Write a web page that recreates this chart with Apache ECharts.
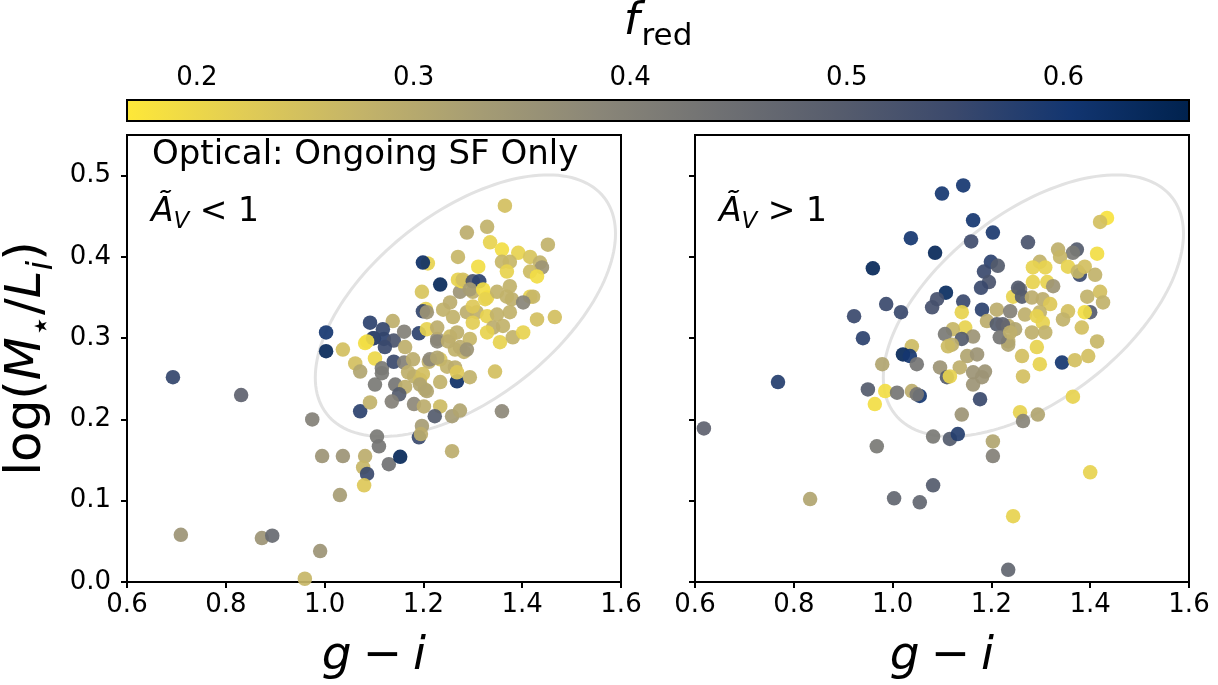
<!DOCTYPE html>
<html>
<head>
<meta charset="utf-8">
<script src="https://cdn.jsdelivr.net/npm/echarts@6/dist/echarts.min.js"></script>
<style>
  html, body { margin: 0; padding: 0; background: #ffffff; }
  #chart { width: 1218px; height: 685px; }
</style>
</head>
<body>
<div id="chart"></div>
<script>
// Each galaxy: [g - i colour, log(M*/L_i), f_red]
const lowAvPoints = [
  [0.693,0.252,0.56],[0.831,0.230,0.48],[0.709,0.058,0.35],[0.873,0.054,0.35],[0.894,0.057,0.46],
  [0.991,0.038,0.35],[0.960,0.004,0.27],[0.975,0.200,0.40],[0.995,0.155,0.35],[1.037,0.155,0.35],
  [1.031,0.107,0.33],[1.082,0.155,0.29],[1.078,0.141,0.27],[1.086,0.133,0.55],[1.080,0.119,0.23],
  [1.106,0.179,0.42],[1.110,0.167,0.43],[1.130,0.145,0.44],[1.153,0.154,0.64],[1.258,0.161,0.29],
  [1.072,0.210,0.57],[1.092,0.221,0.28],[1.003,0.284,0.64],[1.003,0.307,0.60],[1.037,0.286,0.25],
  [1.082,0.294,0.19],[1.100,0.300,0.57],[1.120,0.299,0.57],[1.140,0.297,0.52],[1.161,0.308,0.40],
  [1.191,0.306,0.57],[1.062,0.269,0.25],[1.072,0.259,0.31],[1.102,0.275,0.20],[1.116,0.263,0.42],
  [1.116,0.257,0.42],[1.102,0.243,0.42],[1.140,0.271,0.55],[1.161,0.270,0.40],[1.143,0.243,0.43],
  [1.163,0.240,0.285],[1.151,0.231,0.50],[1.136,0.222,0.40],[1.181,0.219,0.38],[1.201,0.216,0.29],
  [1.234,0.216,0.26],[1.223,0.204,0.50],[1.258,0.204,0.33],[1.274,0.211,0.31],[1.197,0.192,0.33],
  [1.191,0.178,0.55],[1.195,0.182,0.29],[1.268,0.247,0.62],[1.294,0.252,0.28],[1.234,0.246,0.28],
  [1.203,0.237,0.285],[1.181,0.253,0.285],[1.193,0.249,0.26],[1.211,0.271,0.285],[1.234,0.274,0.24],
  [1.248,0.265,0.28],[1.228,0.299,0.35],[1.254,0.302,0.26],[1.264,0.286,0.28],[1.282,0.283,0.28],
  [1.294,0.299,0.27],[1.234,0.366,0.64],[1.197,0.357,0.24],[1.274,0.357,0.35],[1.300,0.357,0.285],
  [1.278,0.370,0.19],[1.329,0.350,0.21],[1.349,0.357,0.28],[1.375,0.364,0.28],[1.379,0.348,0.285],
  [1.205,0.336,0.21],[1.199,0.333,0.56],[1.207,0.332,0.35],[1.240,0.335,0.28],[1.260,0.326,0.28],
  [1.288,0.332,0.29],[1.308,0.332,0.285],[1.329,0.327,0.21],[1.349,0.329,0.28],[1.375,0.332,0.28],
  [1.361,0.315,0.28],[1.341,0.313,0.29],[1.300,0.319,0.22],[1.329,0.307,0.21],[1.355,0.295,0.21],
  [1.381,0.301,0.28],[1.092,0.319,0.57],[1.138,0.321,0.285],[1.118,0.311,0.56],[1.098,0.300,0.56],
  [1.086,0.296,0.19],[1.122,0.289,0.55],[1.207,0.311,0.21],[1.228,0.313,0.29],[1.228,0.296,0.39],
  [1.250,0.296,0.29],[1.268,0.307,0.285],[1.274,0.289,0.29],[1.288,0.286,0.35],[1.163,0.289,0.285],
  [1.179,0.274,0.29],[1.213,0.274,0.38],[1.228,0.276,0.31],[1.264,0.264,0.29],[1.268,0.258,0.23],
  [1.169,0.258,0.285],[1.199,0.256,0.25],[1.193,0.243,0.31],[1.207,0.235,0.31],[1.345,0.259,0.25],
  [1.359,0.210,0.38],[1.365,0.463,0.25],[1.329,0.437,0.28],[1.288,0.430,0.29],[1.270,0.400,0.27],
  [1.335,0.418,0.21],[1.359,0.409,0.19],[1.392,0.405,0.21],[1.416,0.400,0.24],[1.452,0.415,0.28],
  [1.436,0.393,0.28],[1.440,0.387,0.35],[1.416,0.382,0.26],[1.430,0.376,0.19],[1.359,0.394,0.27],
  [1.375,0.394,0.27],[1.369,0.382,0.21],[1.311,0.388,0.19],[1.270,0.372,0.21],[1.280,0.372,0.25],
  [1.300,0.370,0.52],[1.313,0.370,0.57],[1.294,0.360,0.33],[1.321,0.360,0.19],[1.416,0.351,0.21],
  [1.422,0.351,0.27],[1.369,0.351,0.28],[1.402,0.344,0.39],[1.430,0.323,0.25],[1.466,0.326,0.25],
  [1.300,0.339,0.23],[1.325,0.348,0.21],[1.254,0.344,0.29],[1.209,0.392,0.21],[1.199,0.393,0.62],
  [1.402,0.307,0.21]
];

const highAvPoints = [
  [0.618,0.189,0.48],[0.768,0.246,0.58],[0.833,0.102,0.31],[1.143,0.488,0.60],[1.100,0.478,0.60],
  [1.163,0.445,0.60],[1.203,0.430,0.59],[1.159,0.419,0.54],[1.037,0.423,0.60],[1.086,0.405,0.64],
  [0.960,0.386,0.64],[1.199,0.394,0.57],[1.213,0.389,0.50],[1.185,0.382,0.55],[1.195,0.369,0.52],
  [1.179,0.362,0.55],[1.108,0.356,0.63],[1.090,0.348,0.53],[1.080,0.338,0.53],[1.143,0.345,0.55],
  [0.987,0.342,0.55],[1.017,0.332,0.55],[0.922,0.327,0.55],[0.940,0.300,0.57],[1.140,0.332,0.21],
  [1.181,0.335,0.57],[1.258,0.360,0.42],[1.244,0.351,0.21],[1.211,0.335,0.29],[1.238,0.333,0.40],
  [1.191,0.321,0.29],[1.211,0.317,0.50],[1.234,0.315,0.285],[1.147,0.313,0.21],[1.122,0.311,0.27],
  [1.106,0.305,0.42],[1.163,0.302,0.35],[1.140,0.299,0.50],[1.120,0.292,0.285],[1.039,0.290,0.26],
  [1.234,0.296,0.29],[1.434,0.448,0.18],[1.420,0.443,0.25],[1.274,0.418,0.52],[1.373,0.409,0.50],
  [1.365,0.405,0.42],[1.335,0.409,0.285],[1.339,0.400,0.27],[1.414,0.404,0.19],[1.298,0.394,0.28],
  [1.284,0.387,0.21],[1.309,0.387,0.21],[1.355,0.388,0.21],[1.379,0.378,0.55],[1.375,0.382,0.27],
  [1.389,0.388,0.25],[1.410,0.378,0.28],[1.284,0.369,0.21],[1.313,0.369,0.21],[1.325,0.364,0.35],
  [1.254,0.362,0.50],[1.262,0.351,0.50],[1.282,0.350,0.29],[1.304,0.348,0.29],[1.319,0.342,0.23],
  [1.298,0.332,0.28],[1.268,0.329,0.285],[1.394,0.351,0.28],[1.420,0.357,0.25],[1.426,0.344,0.28],
  [1.400,0.332,0.50],[1.389,0.332,0.19],[1.355,0.333,0.25],[1.345,0.323,0.28],[1.292,0.327,0.21],
  [1.304,0.319,0.21],[1.309,0.307,0.28],[1.282,0.307,0.285],[1.248,0.311,0.31],[1.223,0.317,0.48],
  [1.234,0.292,0.31],[1.217,0.301,0.43],[1.292,0.289,0.21],[1.262,0.278,0.25],[1.298,0.268,0.21],
  [1.264,0.253,0.25],[1.343,0.270,0.60],[1.369,0.273,0.25],[1.396,0.278,0.25],[1.414,0.296,0.27],
  [1.383,0.313,0.25],[1.365,0.228,0.21],[1.112,0.290,0.26],[1.151,0.278,0.31],[1.171,0.280,0.35],
  [1.136,0.264,0.285],[1.021,0.280,0.64],[1.035,0.278,0.60],[1.049,0.268,0.43],[0.979,0.268,0.31],
  [1.096,0.264,0.35],[1.110,0.252,0.50],[1.116,0.253,0.21],[1.163,0.258,0.35],[1.181,0.252,0.35],
  [1.187,0.259,0.35],[1.163,0.243,0.35],[0.985,0.235,0.19],[0.950,0.237,0.50],[1.009,0.233,0.43],
  [1.039,0.235,0.29],[1.055,0.229,0.60],[1.049,0.231,0.43],[0.964,0.219,0.19],[1.177,0.225,0.55],
  [1.140,0.206,0.35],[1.258,0.209,0.21],[1.264,0.198,0.39],[1.082,0.179,0.42],[1.116,0.176,0.50],
  [1.132,0.182,0.58],[1.203,0.173,0.31],[0.968,0.167,0.42],[1.238,0.307,0.285],[1.003,0.103,0.47],
  [1.055,0.098,0.47],[1.082,0.119,0.50],[1.203,0.155,0.40],[1.234,0.015,0.47],[1.244,0.081,0.21],
  [1.294,0.206,0.31],[1.400,0.135,0.21]
];

// Colour scale for f_red (cividis, reversed: low = yellow, high = navy)
const fredRange = [0.1677, 0.658];
const fredTicks = [0.2, 0.3, 0.4, 0.5, 0.6];
const cividisReversed = ['#fee838', '#e1cc55', '#c3b369', '#a59c74', '#8a8678',
                         '#707173', '#575d6d', '#3b496c', '#123570', '#00224e'];

// Axis ranges and ticks
const gIRange = [0.6, 1.6];
const logMLRange = [0, 0.55];
const logMLTicks = [0.0, 0.1, 0.2, 0.3, 0.4, 0.5];

// Reference contour of the full sample: centre and two conjugate semi-axes (data units)
const contourCentre = [1.285, 0.340];
const contourAxisU = [0.2807, 0.1332];
const contourAxisV = [-0.1163, 0.0903];

const FONT = 'DejaVu Sans';
const chart = echarts.init(document.getElementById('chart'), null, { renderer: 'canvas' });

function contourItem(params, api) {
  const pts = [];
  const n = 160;
  for (let k = 0; k <= n; k++) {
    const t = 2 * Math.PI * k / n;
    const c = Math.cos(t), s = Math.sin(t);
    pts.push(api.coord([
      contourCentre[0] + contourAxisU[0] * c + contourAxisV[0] * s,
      contourCentre[1] + contourAxisU[1] * c + contourAxisV[1] * s
    ]));
  }
  return { type: 'polyline', shape: { points: pts }, style: { stroke: '#e2e2e2', lineWidth: 3, fill: null } };
}

function colourbarItem(params, api) {
  const a = api.coord([api.value(0), 0]);
  const b = api.coord([api.value(1), 1]);
  const stops = cividisReversed.map((c, i) => ({ offset: i / (cividisReversed.length - 1), color: c }));
  return {
    type: 'rect',
    shape: { x: a[0], y: b[1], width: b[0] - a[0], height: a[1] - b[1] },
    style: { fill: new echarts.graphic.LinearGradient(0, 0, 1, 0, stops), stroke: '#000', lineWidth: 2 }
  };
}

const fmt1 = v => Number(v).toFixed(1);

function mathRich(size, subSize, drop) {
  return {
    it: { fontFamily: FONT, fontStyle: 'italic', fontSize: size, color: '#000', verticalAlign: 'bottom', padding: [0, 0, drop, 0] },
    n: { fontFamily: FONT, fontSize: size, color: '#000', verticalAlign: 'bottom', padding: [0, 0, drop, 0] },
    op: { fontFamily: FONT, fontSize: size, color: '#000', verticalAlign: 'bottom', padding: [0, 11, drop, 11] },
    sub: { fontFamily: FONT, fontStyle: 'italic', fontSize: subSize, color: '#000', verticalAlign: 'bottom' }
  };
}

function panelXAxis(gridIndex) {
  return {
    type: 'value', gridIndex, min: gIRange[0], max: gIRange[1], interval: 0.2,
    name: '{it|g}{op|−}{it|i}', nameLocation: 'middle', nameGap: 51,
    nameTextStyle: { rich: mathRich(47, 33, 7) },
    axisLine: { show: true, onZero: false, lineStyle: { color: '#000', width: 2 } },
    axisTick: { show: true, inside: false, length: 6, lineStyle: { color: '#000', width: 2 } },
    axisLabel: { show: true, formatter: fmt1, fontFamily: FONT, fontSize: 26, color: '#000', margin: 10 },
    splitLine: { show: false }
  };
}

function panelYAxis(gridIndex, showLabels) {
  return {
    type: 'value', gridIndex, min: logMLRange[0], max: logMLRange[1],
    name: showLabels ? '{n|log(}{it|M}{sub|⋆}{n|/}{it|L}{sub|i}{n|)}' : '',
    nameLocation: 'middle', nameRotate: 90, nameGap: 67,
    nameTextStyle: { rich: mathRich(50, 35, 8) },
    axisLine: { show: true, onZero: false, lineStyle: { color: '#000', width: 2 } },
    axisTick: { show: true, inside: false, length: 6, customValues: logMLTicks, lineStyle: { color: '#000', width: 2 } },
    axisLabel: { show: showLabels, customValues: logMLTicks, formatter: fmt1, fontFamily: FONT, fontSize: 26, color: '#000', margin: 16 },
    splitLine: { show: false }
  };
}

const scatterStyle = { symbol: 'circle', symbolSize: 14.5, itemStyle: { opacity: 0.92 } };

const aRich = {
  a: { fontFamily: FONT, fontStyle: 'italic', fontSize: 33, fill: '#000', verticalAlign: 'bottom', padding: [0, 0, 5, 0] },
  v: { fontFamily: FONT, fontStyle: 'italic', fontSize: 23, fill: '#000', verticalAlign: 'bottom' },
  n: { fontFamily: FONT, fontSize: 33, fill: '#000', verticalAlign: 'bottom', padding: [0, 0, 5, 0] }
};

const option = {
  backgroundColor: '#ffffff',
  animation: false,
  grid: [
    { left: 127, top: 135, width: 494, height: 448, show: true, borderColor: '#000', borderWidth: 2, backgroundColor: 'transparent' },
    { left: 695, top: 135, width: 494, height: 448, show: true, borderColor: '#000', borderWidth: 2, backgroundColor: 'transparent' },
    { left: 127, top: 100, width: 1062, height: 21, show: false }
  ],
  xAxis: [
    panelXAxis(0),
    panelXAxis(1),
    {
      type: 'value', gridIndex: 2, min: fredRange[0], max: fredRange[1], position: 'top',
      axisLine: { show: false },
      axisTick: { show: true, inside: false, length: 5, customValues: fredTicks, lineStyle: { color: '#000', width: 2 } },
      axisLabel: { show: true, customValues: fredTicks, formatter: fmt1, fontFamily: FONT, fontSize: 26, color: '#000', margin: 9 },
      splitLine: { show: false }
    }
  ],
  yAxis: [
    panelYAxis(0, true),
    panelYAxis(1, false),
    { type: 'value', gridIndex: 2, min: 0, max: 1, show: false }
  ],
  visualMap: {
    type: 'continuous', show: false, seriesIndex: [2, 3], dimension: 2,
    min: fredRange[0], max: fredRange[1], inRange: { color: cividisReversed }
  },
  series: [
    { type: 'custom', xAxisIndex: 0, yAxisIndex: 0, data: [contourCentre], renderItem: contourItem, silent: true, z: 1, clip: false },
    { type: 'custom', xAxisIndex: 1, yAxisIndex: 1, data: [contourCentre], renderItem: contourItem, silent: true, z: 1, clip: false },
    Object.assign({ type: 'scatter', xAxisIndex: 0, yAxisIndex: 0, data: lowAvPoints, z: 3 }, scatterStyle),
    Object.assign({ type: 'scatter', xAxisIndex: 1, yAxisIndex: 1, data: highAvPoints, z: 3 }, scatterStyle),
    { type: 'custom', xAxisIndex: 2, yAxisIndex: 2, data: [fredRange], renderItem: colourbarItem, silent: true, z: 2 }
  ],
  graphic: [
    {
      type: 'text', x: 658, y: 52, silent: true,
      style: {
        text: '{f|f}{s|red}', align: 'center', verticalAlign: 'bottom',
        rich: {
          f: { fontFamily: FONT, fontStyle: 'italic', fontSize: 45, fill: '#000', verticalAlign: 'bottom', padding: [0, 2, 7, 0] },
          s: { fontFamily: FONT, fontSize: 31, fill: '#000', verticalAlign: 'bottom' }
        }
      }
    },
    {
      type: 'text', x: 152, y: 138, silent: true,
      style: { text: 'Optical: Ongoing SF Only', fontFamily: FONT, fontSize: 34, fill: '#000', align: 'left', verticalAlign: 'top' }
    },
    {
      type: 'text', x: 151, y: 234, silent: true,
      style: { text: '{a|Ã}{v|V}{n| < 1}', align: 'left', verticalAlign: 'bottom', rich: aRich }
    },
    {
      type: 'text', x: 719, y: 234, silent: true,
      style: { text: '{a|Ã}{v|V}{n| > 1}', align: 'left', verticalAlign: 'bottom', rich: aRich }
    }
  ]
};

chart.setOption(option);
</script>
</body>
</html>
